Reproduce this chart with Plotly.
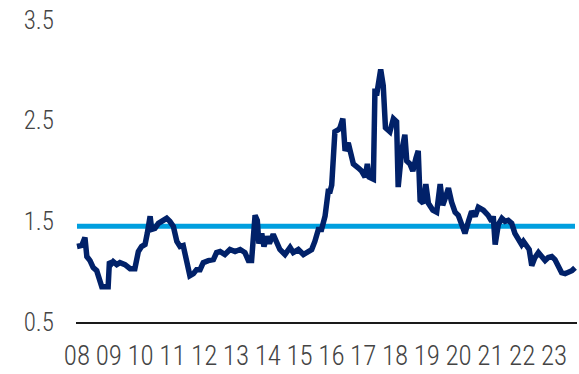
import plotly.graph_objects as go

# Decimal-year dates and ratio readings
years = [
    2008.00, 2008.15, 2008.25, 2008.31, 2008.41, 2008.51, 2008.62, 2008.72, 2008.78, 2008.98,
    2009.02, 2009.09, 2009.14, 2009.25, 2009.35, 2009.51, 2009.67, 2009.82, 2009.93, 2010.03,
    2010.14, 2010.21, 2010.30, 2010.35, 2010.45, 2010.56, 2010.71, 2010.82, 2010.92, 2011.03,
    2011.14, 2011.24, 2011.34, 2011.45, 2011.55, 2011.66, 2011.76, 2011.87, 2011.97, 2012.13,
    2012.29, 2012.39, 2012.50, 2012.65, 2012.81, 2012.97, 2013.13, 2013.28, 2013.39, 2013.49,
    2013.60, 2013.67, 2013.72, 2013.81, 2013.88, 2013.97, 2014.05, 2014.17, 2014.28, 2014.38,
    2014.54, 2014.70, 2014.80, 2014.96, 2015.12, 2015.27, 2015.38, 2015.48, 2015.59, 2015.69,
    2015.80, 2015.90, 2015.96, 2016.01, 2016.11, 2016.22, 2016.27, 2016.36, 2016.43, 2016.53,
    2016.64, 2016.69, 2016.85, 2016.95, 2017.06, 2017.13, 2017.19, 2017.32, 2017.37, 2017.42,
    2017.55, 2017.63, 2017.70, 2017.84, 2017.95, 2018.05, 2018.10, 2018.21, 2018.31, 2018.37,
    2018.47, 2018.56, 2018.66, 2018.73, 2018.79, 2018.89, 2018.97, 2019.05, 2019.19, 2019.31,
    2019.42, 2019.50, 2019.57, 2019.68, 2019.78, 2019.89, 2019.99, 2020.10, 2020.20, 2020.31,
    2020.41, 2020.52, 2020.62, 2020.78, 2020.93, 2021.04, 2021.09, 2021.15, 2021.25, 2021.36,
    2021.46, 2021.56, 2021.67, 2021.77, 2021.88, 2021.98, 2022.04, 2022.14, 2022.22, 2022.30,
    2022.40, 2022.51, 2022.61, 2022.72, 2022.82, 2022.93, 2023.03, 2023.14, 2023.24, 2023.35,
    2023.45, 2023.56, 2023.66,
]
ratio = [
    1.25, 1.26, 1.34, 1.15, 1.11, 1.04, 1.01, 0.93, 0.85, 0.85,
    1.10, 1.08, 1.10, 1.07, 1.09, 1.07, 1.03, 1.03, 1.20, 1.25,
    1.27, 1.38, 1.55, 1.42, 1.43, 1.48, 1.51, 1.53, 1.50, 1.45,
    1.30, 1.25, 1.26, 1.10, 0.96, 0.98, 1.02, 1.02, 1.09, 1.11,
    1.12, 1.19, 1.20, 1.17, 1.22, 1.20, 1.22, 1.19, 1.11, 1.11,
    1.56, 1.51, 1.28, 1.38, 1.25, 1.35, 1.28, 1.37, 1.30, 1.22,
    1.17, 1.24, 1.19, 1.22, 1.17, 1.20, 1.22, 1.30, 1.42, 1.42,
    1.55, 1.80, 1.80, 1.86, 2.39, 2.41, 2.43, 2.52, 2.20, 2.28,
    2.16, 2.07, 2.03, 2.00, 1.94, 2.07, 1.94, 1.92, 2.82, 2.75,
    3.01, 2.85, 2.43, 2.39, 2.52, 2.49, 1.84, 2.20, 2.36, 2.10,
    2.07, 2.00, 2.13, 2.20, 1.71, 1.68, 1.87, 1.68, 1.61, 1.59,
    1.87, 1.66, 1.72, 1.83, 1.69, 1.59, 1.56, 1.46, 1.38, 1.50,
    1.60, 1.55, 1.64, 1.61, 1.56, 1.50, 1.55, 1.27, 1.47, 1.53,
    1.50, 1.51, 1.48, 1.38, 1.33, 1.27, 1.30, 1.25, 1.22, 1.06,
    1.14, 1.19, 1.15, 1.11, 1.14, 1.15, 1.12, 1.06, 0.99, 0.98,
    0.99, 1.01, 1.04,
]
average = 1.45

tick_years = list(range(2008, 2024))
tick_labels = [f"{y % 100:02d}" for y in tick_years]
y_ticks = [0.5, 1.5, 2.5, 3.5]

NAVY = "#012169"
LIGHT_BLUE = "#009FDF"
FONT = "Liberation Sans Narrow, Roboto Condensed, DejaVu Sans Condensed, Arial Narrow, sans-serif"
TEXT = "#444444"

fig = go.Figure()

# Long-run average
fig.add_trace(go.Scatter(
    x=[years[0], years[-1]], y=[average, average],
    mode="lines", line=dict(color=LIGHT_BLUE, width=5),
    hoverinfo="skip", showlegend=False,
))

# Ratio series
fig.add_trace(go.Scatter(
    x=years, y=ratio, mode="lines",
    line=dict(color=NAVY, width=5.5, shape="linear"),
    showlegend=False,
))

fig.update_layout(
    width=579, height=374,
    margin=dict(l=76, r=2, t=20, b=47),
    paper_bgcolor="white", plot_bgcolor="white",
    font=dict(family=FONT, size=25, color=TEXT, weight=300),
)

fig.update_xaxes(
    range=[2007.969, 2023.723],
    tickmode="array", tickvals=tick_years, ticktext=tick_labels,
    showgrid=False, zeroline=False,
    showline=True, linecolor="#1a1a1a", linewidth=2,
    ticks="", ticklabelstandoff=9,
    tickfont=dict(family=FONT, size=27, color=TEXT, weight=300),
)
fig.update_yaxes(
    range=[0.5, 3.5],
    tickmode="array", tickvals=y_ticks, ticktext=[str(v) for v in y_ticks],
    showgrid=False, zeroline=False, showline=False,
    ticks="", ticklabelstandoff=21,
    tickfont=dict(family=FONT, size=25, color=TEXT, weight=300),
)

fig.write_html("out.html")
